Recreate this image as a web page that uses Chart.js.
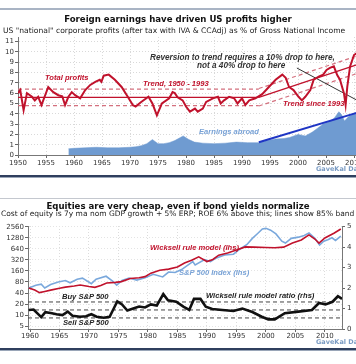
<!DOCTYPE html>
<html><head><meta charset="utf-8">
<script src="https://cdn.jsdelivr.net/npm/chart.js@4"></script>
<style>
html,body{margin:0;padding:0;background:#fff;overflow:hidden;width:356px;height:364px;}
#wrap{position:relative;width:356px;height:364px;overflow:hidden;}
.t{position:absolute;white-space:nowrap;line-height:10px;font-family:"DejaVu Sans",sans-serif;z-index:5;}
.ttl{font-weight:bold;font-size:8.6px;color:#111;left:0;width:356px;text-align:center;}
.sub{font-size:7.6px;color:#222;}
.ann{font-family:"Liberation Sans",Arial,sans-serif;font-style:italic;font-weight:bold;font-size:7.6px;}
.hl{position:absolute;left:0;width:356px;z-index:6;}
canvas{position:absolute;z-index:2;}
</style></head>
<body><div id="wrap">
<div class="hl" style="top:8px;height:2px;background:#a9b4c4"></div>
<div class="t ttl" style="top:14px">Foreign earnings have driven US profits higher</div>
<div class="t sub" style="top:25.5px;left:3px">US "national" corporate profits (after tax with IVA &amp; CCAdj) as % of Gross National Income</div>
<div class="t ann" style="top:73px;left:45px;color:#c0122c">Total profits</div>
<div class="t ann" style="top:78.5px;left:143px;color:#c0122c">Trend, 1950 - 1993</div>
<div class="t ann" style="top:52.5px;left:150px;color:#333;font-size:8.2px">Reversion to trend requires a 10% drop to here,</div>
<div class="t ann" style="top:61px;left:197px;color:#333;font-size:8.2px">not a 40% drop to here</div>
<div class="t ann" style="top:99px;left:283px;color:#c0122c">Trend since 1993</div>
<div class="t ann" style="top:127px;left:199px;color:#7aa3d6">Earnings abroad</div>
<div class="t" style="top:164px;left:316px;font-size:6.5px;font-weight:bold;color:#7b9cc4">GaveKal Data</div>
<div class="hl" style="top:175px;height:2px;background:#2f3f5e"></div>
<div class="hl" style="top:177px;height:1px;background:#9aa6b8"></div>

<div class="hl" style="top:198px;height:1px;background:#c4c8cf"></div>
<div class="t ttl" style="top:201px">Equities are very cheap, even if bond yields normalize</div>
<div class="t sub" style="top:209px;left:1px;font-size:7.5px">Cost of equity is 7y ma nom GDP growth + 5% ERP; ROE 6% above this; lines show 85% band</div>
<div class="t ann" style="top:243px;left:150px;color:#c0122c">Wicksell rule model (lhs)</div>
<div class="t ann" style="top:268px;left:179px;color:#7aa3d6">S&amp;P 500 Index (lhs)</div>
<div class="t ann" style="top:292px;left:62px;color:#222">Buy S&amp;P 500</div>
<div class="t ann" style="top:318px;left:63px;color:#222">Sell S&amp;P 500</div>
<div class="t ann" style="top:291px;left:206px;color:#222">Wicksell rule model ratio (rhs)</div>
<div class="t" style="top:337px;left:316px;font-size:6.5px;font-weight:bold;color:#7b9cc4">GaveKal Data</div>
<div class="hl" style="top:348px;height:2px;background:#2f3f5e"></div>
<div class="hl" style="top:350px;height:1px;background:#9aa6b8"></div>

<canvas id="c1" width="380" height="178" style="left:0;top:0;width:380px;height:178px"></canvas>
<canvas id="c2" width="356" height="170" style="left:0;top:180px;width:356px;height:170px"></canvas>
</div>
<script>
// ---------------- Top chart data ----------------
const profitYears = [1950.0,1950.4,1951.0,1951.6,1952.5,1953.0,1953.6,1954.2,1955.4,1956.3,1957.2,1957.9,1958.4,1959.0,1959.6,1960.2,1961.1,1962.0,1962.9,1963.8,1964.6,1964.9,1965.3,1966.2,1967.3,1968.5,1969.6,1970.5,1971.0,1972.0,1973.3,1974.0,1974.8,1975.7,1977.0,1977.6,1978.0,1978.5,1979.4,1980.0,1980.7,1981.6,1982.1,1983.0,1983.6,1984.8,1985.7,1986.2,1986.8,1987.7,1988.6,1989.2,1990.0,1990.6,1991.3,1992.4,1993.6,1994.8,1996.0,1997.2,1997.8,1998.4,1999.2,2000.1,2000.7,2001.3,2002.2,2002.8,2003.7,2004.5,2005.1,2005.7,2006.4,2007.0,2007.5,2008.2,2008.5,2008.8,2009.3,2010.0,2010.8,2011.5,2012.3];
const profitValues = [6.0,6.3,4.35,6.0,5.65,5.3,5.65,4.85,6.6,6.1,5.8,5.7,4.85,5.65,6.1,5.8,5.5,6.3,6.8,7.1,7.3,7.1,7.7,7.8,7.3,6.6,5.65,4.85,4.7,5.15,5.65,5.0,3.85,5.0,5.5,6.1,6.0,5.6,5.3,4.7,4.2,4.5,4.2,4.5,5.15,5.5,5.65,5.0,5.3,5.65,5.5,5.0,5.5,4.85,5.3,5.5,5.9,6.6,7.3,7.8,7.5,6.6,6.3,5.65,5.3,5.65,6.3,7.3,7.6,7.8,8.25,8.45,8.6,7.75,7.3,6.0,4.85,6.6,8.6,9.7,10.0,10.1,10.3];
const abroadYears = [1959,1960,1962,1964,1966,1968,1970,1971,1972,1973,1974,1975,1976,1977,1978,1979.5,1980.5,1981.5,1983,1985,1987,1989,1991,1993,1994.5,1996,1997.5,1998.5,2000,2001.3,2002.5,2003.5,2004.5,2005.5,2006.5,2007.3,2007.8,2008.3,2009,2010,2011,2012,2013];
const abroadValues = [0.6,0.65,0.7,0.75,0.7,0.7,0.75,0.8,0.9,1.1,1.5,1.1,1.1,1.2,1.4,1.85,1.5,1.25,1.15,1.1,1.15,1.25,1.2,1.2,1.4,1.55,1.6,1.7,2.0,1.85,2.2,2.6,3.0,3.2,3.6,4.2,3.9,3.3,3.7,4.0,4.3,4.5,4.6];
const trendFlatYears = [1950, 1993];
const trendFlatMid = [5.6, 5.6];
const trendFlatHi = [6.4, 6.4];
const trendFlatLo = [4.8, 4.8];
const trendRiseYears = [1993, 2013];
const trendRiseMid = [5.6, 9.2];
const trendRiseHi = [6.45, 10.05];
const trendRiseLo = [4.75, 8.35];
const abroadTrendYears = [1993, 2013];
const abroadTrendValues = [1.23, 4.5];
const pointerYears = [1999.8, 2013];
const pointerValues = [8.44, 4.6];
const topYearTicks = [1950,1955,1960,1965,1970,1975,1980,1985,1990,1995,2000,2005,2010];
const topValueTicks = [0,1,2,3,4,5,6,7,8,9,10,11];

// ---------------- Bottom chart data ----------------
const spYears = [1959.8,1961.0,1961.9,1962.5,1963.5,1964.8,1966.0,1966.8,1968.0,1968.9,1970.4,1971.2,1972.9,1974.0,1974.7,1975.6,1976.8,1978.1,1979.5,1980.9,1982.5,1983.5,1984.6,1985.7,1987.6,1988.0,1989.6,1990.6,1991.5,1993.0,1994.5,1995.5,1996.8,1997.7,1998.6,1999.4,2000.0,2000.8,2001.7,2002.7,2003.3,2004.3,2005.5,2006.5,2007.3,2008.3,2009.1,2009.8,2010.5,2011.2,2011.8,2012.7];
const spValues = [55,65,70,55,68,80,88,76,95,102,72,95,115,85,66,88,103,90,104,130,110,150,145,175,290,235,330,290,360,440,460,620,850,1250,1700,2250,2350,2100,1650,1050,930,1250,1350,1500,1750,1250,820,1050,1150,1300,1100,1450];
const wkYears = [1959.8,1960.8,1961.6,1962.5,1963.5,1965.0,1966.0,1967.5,1968.5,1970.0,1971.0,1972.0,1973.0,1974.5,1975.5,1977.0,1978.5,1979.5,1980.5,1982.0,1983.5,1985.0,1986.2,1987.5,1988.6,1990.0,1991.0,1992.0,1993.5,1995.0,1996.5,1998.0,2000.0,2001.5,2003.0,2004.5,2006.0,2007.3,2008.3,2009.0,2010.0,2011.6,2012.7];
const wkValues = [55,48,41,44,48,54,58,62,66,60,57,64,75,78,82,100,105,112,140,168,180,205,265,320,390,290,330,435,500,600,730,720,700,690,720,930,1130,1550,1200,930,1280,1750,2250];
const ratioYears = [1959.8,1960.6,1961.3,1961.9,1962.6,1963.5,1964.5,1965.5,1966.4,1967.2,1968.5,1969.5,1970.4,1971.3,1972.5,1973.5,1974.2,1974.8,1975.6,1976.5,1977.5,1978.5,1979.5,1980.5,1981.5,1982.6,1983.4,1984.8,1986.0,1987.0,1987.8,1988.9,1989.8,1990.9,1992.6,1994.5,1996.0,1997.7,1999.3,2000.4,2001.5,2003.2,2005.5,2007.8,2009.0,2010.1,2011.3,2012.2,2012.9];
const ratioValues = [0.93,0.95,0.75,0.58,0.82,0.78,0.72,0.68,0.85,0.65,0.6,0.62,0.72,0.6,0.55,0.6,1.0,1.35,1.2,0.9,1.0,1.1,1.05,1.2,1.15,1.7,1.4,1.33,1.09,0.93,1.47,1.47,1.09,0.98,0.93,0.88,1.0,0.83,0.6,0.47,0.47,0.77,0.85,0.93,1.27,1.2,1.33,1.6,1.47];
const bandYears = [1959.66, 2012.9];
const buyLevel = [1.32, 1.32];
const midLevel = [0.93, 0.93];
const sellLevel = [0.54, 0.54];
const bottomYearTicks = [1960,1965,1970,1975,1980,1985,1990,1995,2000,2005,2010];
const leftTicks = [5,10,20,40,80,160,320,640,1280,2560];
const rightTicks = [0,1,2,3,4,5];

// ---------------- helpers ----------------
const pts = (xs, ys) => xs.map((x, i) => ({x: x, y: ys[i]}));
const tickFont = {family: 'DejaVu Sans', size: 7};
const setTicks = arr => (scale => { scale.ticks = arr.map(v => ({value: v})); });
const line = (xs, ys, color, width, dash, extra) => Object.assign({
  data: pts(xs, ys), borderColor: color, borderWidth: width, borderDash: dash || [],
  pointRadius: 0, tension: 0, fill: false
}, extra || {});

const red = '#c0122c', redDash = '#d4707e';

new Chart(document.getElementById('c1'), {
  type: 'line',
  data: {datasets: [
    line(profitYears, profitValues, red, 2),
    line(pointerYears, pointerValues, '#333', 1),
    line(trendFlatYears, trendFlatMid, red, 1.3),
    line(trendFlatYears, trendFlatHi, redDash, 1.2, [4, 3]),
    line(trendFlatYears, trendFlatLo, redDash, 1.2, [4, 3]),
    line(trendRiseYears, trendRiseMid, red, 1.3),
    line(trendRiseYears, trendRiseHi, redDash, 1.2, [4, 3]),
    line(trendRiseYears, trendRiseLo, redDash, 1.2, [4, 3]),
    line(abroadTrendYears, abroadTrendValues, '#1f36c4', 2),
    line(abroadYears, abroadValues, '#6f9bd1', 0.5, [], {fill: 'origin', backgroundColor: '#6f9bd1'})
  ]},
  options: {
    responsive: false, devicePixelRatio: 1, animation: false,
    layout: {padding: {left: 0, top: 37, right: 9.2, bottom: 11}},
    plugins: {legend: {display: false}, tooltip: {enabled: false}},
    scales: {
      x: {type: 'linear', min: 1950, max: 2013,
        afterBuildTicks: setTicks(topYearTicks),
        afterFit: s => { s.height = 12; },
        ticks: {font: tickFont, color: '#333', padding: 1, maxRotation: 0, autoSkip: false, callback: v => String(v)},
        grid: {color: '#d9d9d9', tickColor: '#666', tickLength: 3},
        border: {color: '#777', width: 1, dash: [1, 2]}},
      y: {type: 'linear', min: 0, max: 11.45,
        afterBuildTicks: setTicks(topValueTicks),
        afterFit: s => { s.width = 18; },
        ticks: {font: tickFont, color: '#333', padding: 1, autoSkip: false, callback: v => String(v)},
        grid: {color: '#d9d9d9', tickColor: '#666', tickLength: 3},
        border: {color: '#777', width: 1, dash: [1, 2]}}
    }
  }
});

new Chart(document.getElementById('c2'), {
  type: 'line',
  data: {datasets: [
    line(ratioYears, ratioValues, '#111', 2.6, [], {yAxisID: 'yR'}),
    line(wkYears, wkValues, red, 1.6, [], {yAxisID: 'yL'}),
    line(spYears, spValues, '#7aa8dc', 1.6, [], {yAxisID: 'yL'}),
    line(bandYears, buyLevel, '#444', 1, [4, 3], {yAxisID: 'yR'}),
    line(bandYears, midLevel, '#444', 1, [4, 3], {yAxisID: 'yR'}),
    line(bandYears, sellLevel, '#444', 1, [4, 3], {yAxisID: 'yR'})
  ]},
  options: {
    responsive: false, devicePixelRatio: 1, animation: false,
    layout: {padding: {left: 0, top: 46, right: 0, bottom: 10}},
    plugins: {legend: {display: false}, tooltip: {enabled: false}},
    scales: {
      x: {type: 'linear', min: 1959.66, max: 2012.9,
        afterBuildTicks: setTicks(bottomYearTicks),
        afterFit: s => { s.height = 11; },
        ticks: {font: tickFont, color: '#333', padding: 0, maxRotation: 0, autoSkip: false, callback: v => String(v)},
        grid: {color: '#dcdcdc', tickColor: '#666', tickLength: 3},
        border: {color: '#777', width: 1, dash: [1, 2]}},
      yL: {type: 'logarithmic', position: 'left', min: 4.14, max: 2725,
        afterBuildTicks: setTicks(leftTicks),
        afterFit: s => { s.width = 28; },
        ticks: {font: tickFont, color: '#333', padding: 1, autoSkip: false, callback: v => String(v)},
        grid: {color: '#e4e4e4', tickColor: '#666', tickLength: 3},
        border: {color: '#777', width: 1, dash: [1, 2]}},
      yR: {type: 'linear', position: 'right', min: 0, max: 5.03,
        afterBuildTicks: setTicks(rightTicks),
        afterFit: s => { s.width = 14; },
        ticks: {font: tickFont, color: '#333', padding: 2, autoSkip: false, callback: v => String(v)},
        grid: {drawOnChartArea: false, tickColor: '#666', tickLength: 3},
        border: {color: '#777', width: 1}}
    }
  }
});
</script>
</body></html>
